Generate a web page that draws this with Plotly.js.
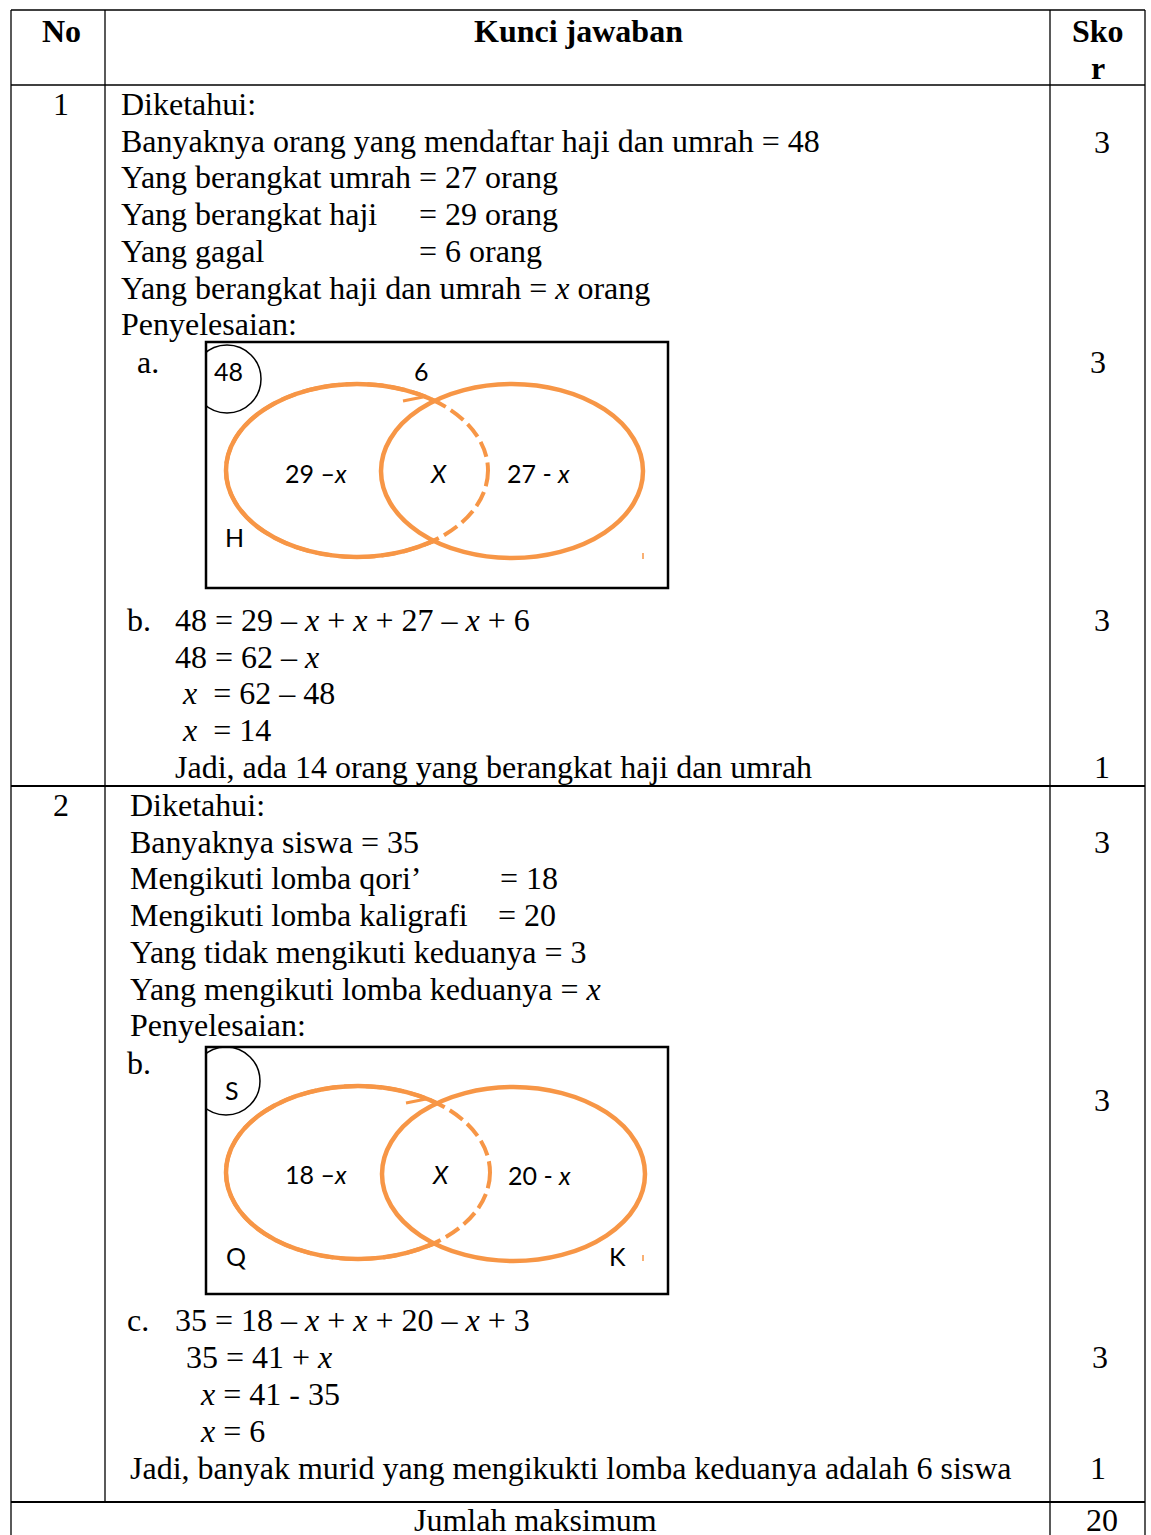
<!DOCTYPE html>
<html>
<head>
<meta charset="utf-8">
<script src="https://cdn.plot.ly/plotly-3.0.1.min.js"></script>
<style>html,body{margin:0;padding:0;background:#fff}</style>
</head>
<body>
<div id="sheet" style="width:1151px;height:1535px"></div>
<script>
// table header
var headers = ["No", "Kunci jawaban", "Sko", "r"];

// soal 1
var soal1Diketahui = ["Diketahui:", "Banyaknya orang yang mendaftar haji dan umrah = 48", "Yang berangkat umrah = 27 orang",
  "Yang berangkat haji\t= 29 orang", "Yang gagal\t= 6 orang", "Yang berangkat haji dan umrah = <i>x</i> orang", "Penyelesaian:"];
var soal1Hitung = ["48 = 29 – <i>x</i> + <i>x</i> + 27 – <i>x</i> + 6", "48 = 62 – <i>x</i>", "<i>x</i>\u00a0 = 62 – 48",
  "<i>x</i>\u00a0 = 14", "Jadi, ada 14 orang yang berangkat haji dan umrah"];
var soal1Venn = ["48", "6", "29 –<i>x</i>", "<i>X</i>", "27 - <i>x</i>", "H", ""];
var soal1Skor = ["3", "3", "3", "1"];

// soal 2
var soal2Diketahui = ["Diketahui:", "Banyaknya siswa = 35", "Mengikuti lomba qori’\t= 18", "Mengikuti lomba kaligrafi\t= 20",
  "Yang tidak mengikuti keduanya = 3", "Yang mengikuti lomba keduanya = <i>x</i>", "Penyelesaian:"];
var soal2Hitung = ["35 = 18 – <i>x</i> + <i>x</i> + 20 – <i>x</i> + 3", "35 = 41 + <i>x</i>", "<i>x</i> = 41 - 35", "<i>x</i> = 6",
  "Jadi, banyak murid yang mengikukti lomba keduanya adalah 6 siswa"];
var soal2Venn = ["S", "", "18 –<i>x</i>", "<i>X</i>", "20 - <i>x</i>", "Q", "K"];
var soal2Skor = ["3", "3", "3", "1"];

var footer = "Jumlah maksimum";
var skorMaks = "20";

// ---- layout stuff below ----
var serif = "Liberation Serif, Times New Roman, serif";
var sans = "Lato, Open Sans, sans-serif";
var orange = "#F79646";
var annotations = [];
var shapes = [];

function txt(x, y, s, opt) {
  opt = opt || {};
  var anchor = opt.anchor || "left";
  annotations.push({
    x: x, y: y, xref: "x", yref: "y", text: s, showarrow: false,
    xanchor: anchor, yanchor: "middle", xshift: anchor == "left" ? -2 : 0,
    font: {family: opt.family || serif, size: opt.size || 32, color: "#000"}
  });
}

function lines(arr, x0, y0, step, indents, tab) {
  arr.forEach(function (s, i) {
    var y = y0 + i * step;
    var x = indents ? indents[i] : x0;
    var parts = s.split("\t");
    txt(x, y, parts[0]);
    if (parts.length > 1) txt(tab[i], y, parts[1]);
  });
}

function line(x0, y0, x1, y1, w, col) {
  shapes.push({type: "line", xref: "x", yref: "y", x0: x0, y0: y0, x1: x1, y1: y1,
    line: {color: col || "#000", width: w || 1.3}});
}

// table grid
line(11, 10, 1145, 10);
line(11, 85, 1145, 85);
line(11, 786, 1145, 786, 1.8);
line(11, 1502, 1145, 1502, 1.8);
line(11, 10, 11, 1535);
line(105, 10, 105, 1502);
line(1050, 10, 1050, 1535);
line(1145, 10, 1145, 1535);

// header
txt(61, 31, headers[0], {anchor: "center"});
txt(578, 31, headers[1], {anchor: "center"});
txt(1098, 31, headers[2], {anchor: "center"});
txt(1098, 68, headers[3], {anchor: "center"});
annotations.slice(-4).forEach(function (a) { a.text = "<b>" + a.text + "</b>"; });

// nomor soal
txt(61, 104, "1", {anchor: "center"});
txt(61, 805, "2", {anchor: "center"});

// soal 1 text
lines(soal1Diketahui, 121, 104, 36.7, null, [0, 0, 0, 419, 419]);
txt(137, 362, "a.");
txt(127, 620, "b.");
lines(soal1Hitung, 0, 620, 36.7, [175, 175, 182, 182, 175]);

// soal 2 text
lines(soal2Diketahui, 130, 805, 36.7, null, [0, 0, 500, 498]);
txt(127, 1063, "b.");
txt(127, 1320, "c.");
lines(soal2Hitung, 0, 1320, 37, [175, 186, 200, 200, 130]);

// skor
var skor1Y = [142, 362, 620, 767], skor2Y = [842, 1100, 1357, 1468], skorX = [1102, 1098, 1102, 1102], skor2X = [1102, 1102, 1100, 1098];
soal1Skor.forEach(function (s, i) { txt(skorX[i], skor1Y[i], s, {anchor: "center"}); });
soal2Skor.forEach(function (s, i) { txt(skor2X[i], skor2Y[i], s, {anchor: "center"}); });

// footer
txt(535, 1520, footer, {anchor: "center"});
txt(1102, 1520, skorMaks, {anchor: "center"});

// venn diagrams
function venn(labels, g) {
  // small universe circle at the corner
  shapes.push({type: "circle", xref: "x", yref: "y", x0: g.c[0] - g.c[2], x1: g.c[0] + g.c[2],
    y0: g.c[1] - g.c[2], y1: g.c[1] + g.c[2], line: {color: "#000", width: 1.5}});
  shapes.push({type: "rect", xref: "x", yref: "y", x0: 185, x1: 205, y0: g.c[1] - 40, y1: g.c[1] + 40,
    fillcolor: "#fff", line: {width: 0}});
  // left set, solid
  shapes.push({type: "circle", xref: "x", yref: "y", x0: g.L[0], y0: g.L[1], x1: g.L[2], y1: g.L[3],
    line: {color: orange, width: 4.5}});
  // right set covers the inner arc
  shapes.push({type: "circle", xref: "x", yref: "y", x0: g.R[0], y0: g.R[1], x1: g.R[2], y1: g.R[3],
    fillcolor: "#fff", line: {color: orange, width: 4.5}});
  // left set, dashed part inside right set
  shapes.push({type: "circle", xref: "x", yref: "y", x0: g.L[0], y0: g.L[1], x1: g.L[2], y1: g.L[3],
    line: {color: orange, width: 4, dash: "16px,6px"}});
  // little hooks at the crossings
  line(g.h1[0], g.h1[1], g.h1[2], g.h1[3], 3, orange);
  line(g.h2[0], g.h2[1], g.h2[2], g.h2[3], 3, orange);
  line(g.t[0], g.t[1], g.t[0], g.t[1] + 6, 1.5, orange);
  // frame
  shapes.push({type: "rect", xref: "x", yref: "y", x0: g.box[0], y0: g.box[1], x1: g.box[2], y1: g.box[3],
    line: {color: "#000", width: 2.5}});
  labels.forEach(function (s, i) {
    if (s) txt(g.pos[i][0], g.pos[i][1], s, {anchor: "center", family: sans, size: 25});
  });
}

venn(soal1Venn, {
  box: [206, 342, 668, 588], c: [227, 379, 34],
  L: [226, 384, 488, 557], R: [381, 384, 643, 558],
  h1: [403, 401, 423, 397], h2: [424, 545, 436, 541], t: [643, 553],
  pos: [[228, 371], [421, 371], [316, 473], [438, 473], [538, 473], [234, 537], [0, 0]]
});
venn(soal2Venn, {
  box: [206, 1047, 668, 1294], c: [226, 1081, 34],
  L: [226, 1086, 490, 1259], R: [382, 1087, 645, 1261],
  h1: [406, 1103, 426, 1099], h2: [426, 1247, 438, 1243], t: [643, 1255],
  pos: [[232, 1090], [0, 0], [316, 1174], [440, 1174], [539, 1175], [236, 1256], [617, 1256]]
});

var layout = {
  width: 1151, height: 1535,
  margin: {l: 0, r: 0, t: 0, b: 0},
  paper_bgcolor: "#fff", plot_bgcolor: "#fff",
  xaxis: {range: [0, 1151], visible: false, fixedrange: true},
  yaxis: {range: [1535, 0], visible: false, fixedrange: true},
  showlegend: false,
  shapes: shapes,
  annotations: annotations
};

Plotly.newPlot("sheet", [], layout, {staticPlot: true});
</script>
</body>
</html>
